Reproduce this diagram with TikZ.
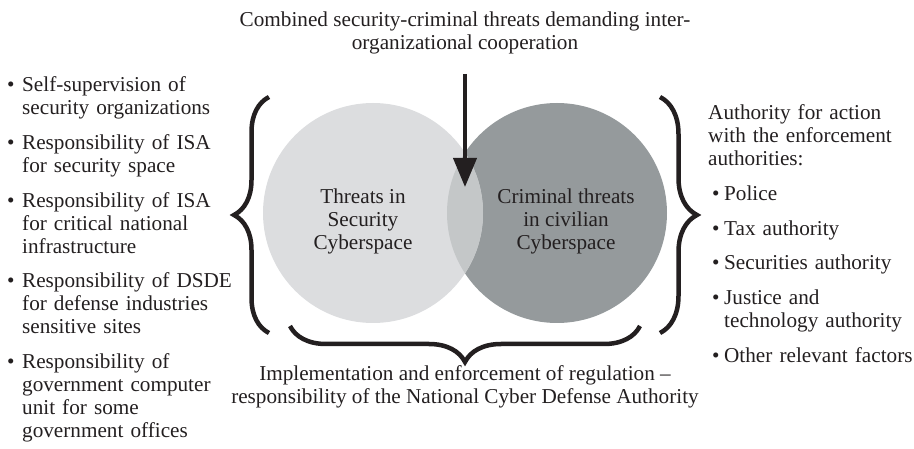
\documentclass[tikz,border=0pt]{standalone}
\usepackage{fontspec}
\setmainfont{Liberation Serif}
\usetikzlibrary{arrows.meta,decorations.pathreplacing}

\definecolor{ink}{HTML}{231F20}
\definecolor{secgray}{HTML}{DCDDDF}
\definecolor{crimgray}{HTML}{959A9C}
\definecolor{lensgray}{HTML}{C4C7C8}

\newcommand{\txtsize}{\fontsize{21.2}{23}\selectfont}
% bullet items: the text is indented, the bullet hangs in the margin
\newcommand{\lbul}[1]{\leftskip=15pt\noindent\llap{\makebox[15pt][l]{\textbullet}}#1\par}
\newcommand{\rbul}[1]{\leftskip=16pt\noindent\llap{\makebox[12pt][l]{\textbullet}}#1\par}

\begin{document}
\begin{tikzpicture}[x=1pt,y=1pt,
  lbl/.style={font=\txtsize, text=ink, align=center, inner sep=0pt},
  listbox/.style={font=\txtsize, text=ink, inner sep=0pt, text width=#1, align=left, anchor=north west},
  bracestyle/.style={decorate, decoration={brace, amplitude=#1}, line width=4.5pt, draw=ink},
  flow/.style={line width=4pt, draw=ink, -{Triangle[width=23pt,length=29pt]}}]

\useasboundingbox (0,0) rectangle (914,-449);

% the two threat spaces and their overlap
\fill[crimgray] (557,-213) circle (110);
\fill[secgray] (373,-213) circle (110);
\begin{scope}
  \clip (373,-213) circle (110);
  \fill[lensgray] (557,-213) circle (110);
\end{scope}

\node[lbl, anchor=north] (security) at (363,-188.2) {Threats in\\Security\\Cyberspace};
\node[lbl, anchor=north] (criminal) at (566,-188.2) {Criminal threats\\in civilian\\Cyberspace};

% combined threats
\node[lbl, anchor=north] (title) at (465,-11.5)
  {Combined security-criminal threats demanding inter-\\organizational cooperation};
\coordinate (arrowstart) at (465,-74);
\coordinate (arrowtip) at (465,-187);
\draw[flow] (arrowstart) -- (arrowtip);

% braces
\draw[bracestyle=35] (269,-333) -- (269,-97);
\draw[bracestyle=37] (660,-97) -- (660,-333);
\draw[bracestyle=36] (640,-326) -- (290,-326);

% regulation
\node[lbl, anchor=north] (regulation) at (465,-365.5)
  {Implementation and enforcement of regulation --\\responsibility of the National Cyber Defense Authority};

% security organizations
\node[listbox=240pt] (secorgs) at (7,-76.5) {%
  \setlength{\parskip}{11.7pt}%
  \lbul{Self-supervision of\\security organizations}%
  \lbul{Responsibility of ISA\\for security space}%
  \lbul{Responsibility of ISA\\for critical national\\infrastructure}%
  \lbul{Responsibility of DSDE\\for defense industries\\sensitive sites}%
  \lbul{Responsibility of\\government computer\\unit for some\\government offices}};

% enforcement authorities
\node[listbox=210pt] (enforce) at (708,-104.5) {%
  \setlength{\parskip}{11.7pt}%
  \noindent Authority for action\\with the enforcement\\authorities:\par
  \rbul{Police}%
  \rbul{Tax authority}%
  \rbul{Securities authority}%
  \rbul{Justice and\\technology authority}%
  \rbul{Other relevant factors}};

\end{tikzpicture}
\end{document}
